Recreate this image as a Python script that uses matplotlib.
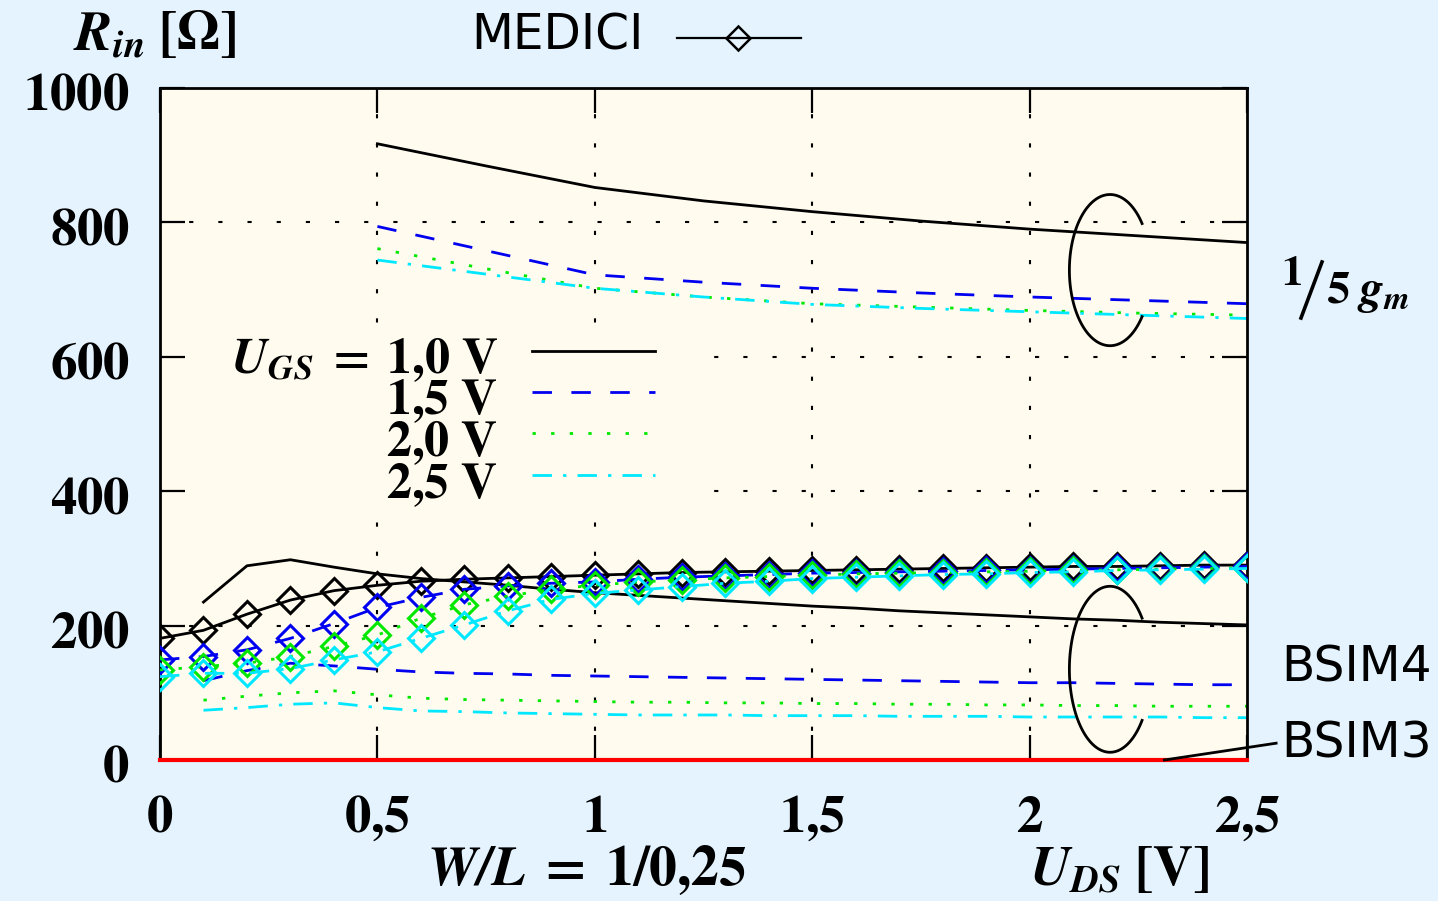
import numpy as np
import matplotlib
matplotlib.use("Agg")
import matplotlib.pyplot as plt
from matplotlib.patches import Rectangle
from matplotlib.transforms import ScaledTranslation

plt.rcParams['mathtext.fontset'] = 'custom'
plt.rcParams['mathtext.rm'] = 'STIXGeneral'
plt.rcParams['mathtext.it'] = 'STIXGeneral:italic'
plt.rcParams['mathtext.bf'] = 'STIXGeneral:bold'
plt.rcParams['mathtext.bfit'] = 'STIXGeneral:italic:bold'
plt.rcParams['font.family'] = ['DejaVu Sans']

# U_DS sweep
x_medici = np.round(np.arange(0, 2.51, 0.1), 1)
x_bsim4 = x_medici[1:]
x_gm = [0.5, 0.75, 1.0, 1.25, 1.5, 1.75, 2.0, 2.25, 2.5]

# MEDICI R_in for U_GS = 1.0 / 1.5 / 2.0 / 2.5 V
medici_10 = [181, 193, 217, 238, 252, 260, 266, 269, 271, 273, 275, 277, 279,
             280, 281, 282, 283, 284, 285, 286, 287, 288, 288, 289, 290, 290]
medici_15 = [149, 154, 164, 181, 203, 227, 242, 254, 259, 263, 265, 269, 272,
             274, 276, 278, 279, 280, 281, 282, 283, 284, 285, 286, 287, 288]
medici_20 = [134, 139, 144, 154, 169, 186, 211, 231, 244, 254, 260, 265, 268,
             271, 273, 275, 277, 278, 279, 280, 281, 282, 283, 284, 285, 286]
medici_25 = [124, 129, 129, 136, 149, 161, 181, 201, 222, 239, 248, 253, 258,
             263, 266, 270, 272, 274, 276, 277, 279, 280, 282, 283, 284, 285]

# BSIM4 R_in
bsim4_10 = [235, 289, 298, 287, 277, 270, 265, 260, 254, 249, 245, 241, 237,
            233, 229, 226, 222, 219, 216, 213, 210, 208, 205, 203, 201]
bsim4_15 = [118, 133, 144, 140, 135, 131, 129, 128, 126, 125, 124, 123, 122,
            121, 120, 119, 118, 117, 116, 115, 115, 114, 113, 112, 112]
bsim4_20 = [89, 95, 100, 103, 97, 92, 90, 89, 88, 87, 86, 86, 85,
            85, 84, 84, 83, 83, 82, 82, 81, 81, 80, 80, 80]
bsim4_25 = [74, 78, 83, 85, 78, 73, 72, 70, 69, 68, 67, 67, 67,
            66, 66, 66, 65, 65, 65, 64, 64, 64, 64, 63, 63]

# 1/(5 gm) from BSIM4
gm_10 = [917, 884, 852, 832, 816, 802, 790, 780, 770]
gm_15 = [794, 758, 722, 711, 702, 695, 689, 684, 679]
gm_20 = [761, 731, 702, 689, 679, 674, 669, 665, 662]
gm_25 = [744, 723, 702, 689, 678, 672, 667, 662, 657]

# BSIM3 R_in (zero everywhere)
bsim3 = [0] * len(x_medici)

xticks = [0, 0.5, 1, 1.5, 2, 2.5]
xtick_labels = ['0', '0{,}5', '1', '1{,}5', '2', '2{,}5']
yticks = [0, 200, 400, 600, 800, 1000]
ugs_labels = ['1{,}0', '1{,}5', '2{,}0', '2{,}5']

W, H = 1438, 901
fig = plt.figure(figsize=(W / 100, H / 100), dpi=100)
fig.patch.set_facecolor('#e4f3fd')
ax = fig.add_axes([160 / W, 1 - 760 / H, (1247 - 160) / W, (760 - 88) / H])
ax.set_facecolor('#fffbee')


def fx(px):
    return px / W


def fy(py):
    return 1 - py / H


colors = ['black', '#0000f0', '#00e800', '#00e8ff']
styles = ['-', (0, (7, 7)), (0, (1.2, 5.5)), (0, (7, 4, 1.2, 4))]

# grid
grid_kw = dict(color='black', lw=1.5, ls=(0, (2, 12)), zorder=0.5)
for xv in xticks[1:-1]:
    ax.axvline(xv, **grid_kw)
for yv in yticks[1:-1]:
    ax.axhline(yv, **grid_kw)

# key box hides the grid
ax.add_patch(Rectangle((0.01, 375), 1.22, 270, facecolor='#fffbee',
                       edgecolor='none', zorder=0.8))

lw = 2.0
for ys, c, s in zip([gm_10, gm_15, gm_20, gm_25], colors, styles):
    ax.plot(x_gm, ys, color=c, ls=s, lw=lw, zorder=2)
for ys, c, s in zip([bsim4_10, bsim4_15, bsim4_20, bsim4_25], colors, styles):
    ax.plot(x_bsim4, ys, color=c, ls=s, lw=lw, zorder=2)
for ys, c, s in zip([medici_10, medici_15, medici_20, medici_25], colors, styles):
    ax.plot(x_medici, ys, color=c, ls=s, lw=lw, marker='D', ms=13,
            mfc='none', mec=c, mew=2.2, zorder=3)
ax.plot(x_medici, bsim3, color='#ff0000', lw=3, zorder=4, clip_on=False)

# open brackets grouping the curves
t = np.deg2rad(np.linspace(38, 322, 120))
for cy, h in [(729, 225), (135, 247)]:
    ax.plot(2.185 + 0.0935 * np.cos(t), cy + h / 2 * np.sin(t), color='black',
            lw=2.0, zorder=5)
ax.plot([2.31, 2.567], [0, 25], color='black', lw=2.0, clip_on=False, zorder=5)

ax.set_xlim(0, 2.5)
ax.set_ylim(0, 1000)
ax.set_xticks(xticks)
ax.set_xticklabels([r'$\mathbf{%s}$' % t for t in xtick_labels])
ax.set_yticks(yticks)
ax.set_yticklabels([r'$\mathbf{%d}$' % t for t in yticks])
ax.tick_params(direction='in', length=18, width=1.6, top=True, right=True,
               labelsize=38, pad=22)
# y labels sit a little below their ticks
shift = ScaledTranslation(0, -0.07, fig.dpi_scale_trans)
for lab in ax.get_yticklabels():
    lab.set_verticalalignment('center')
    lab.set_transform(lab.get_transform() + shift)
for sp in ax.spines.values():
    sp.set_linewidth(2)

fig.text(fx(155), fy(50), r'$\mathbfit{R}_{\mathbfit{in}}\;\mathbf{[\Omega]}$',
         fontsize=40, va='baseline', ha='center')
fig.text(fx(471), fy(50), 'MEDICI', fontsize=35, va='baseline', ha='left')
ax.plot([fx(677), fx(801)], [fy(38), fy(38)], color='black', lw=1.6,
        transform=fig.transFigure, clip_on=False)
ax.plot([fx(738)], [fy(38)], marker='D', ms=12, mfc='none', mec='black', mew=1.8,
        transform=fig.transFigure, clip_on=False)

# U_GS key
key_base = [373, 414, 456, 498]
key_line = [351, 392, 433, 475]
for i, (lab, c, s) in enumerate(zip(ugs_labels, colors, styles)):
    txt = r'$\mathbf{%s\ V}$' % lab
    if i == 0:
        txt = r'$\mathbfit{U}_{\mathbfit{GS}}\mathbf{\;=\;%s\ V}$' % lab
    fig.text(fx(498), fy(key_base[i]), txt, fontsize=36, ha='right', va='baseline')
    ax.plot([fx(532), fx(655)], [fy(key_line[i])] * 2, color=c, ls=s, lw=lw,
            transform=fig.transFigure, clip_on=False)

# 1/5 gm label built from pieces
fig.text(fx(1281), fy(285), r'$\mathbf{1}$', fontsize=31, ha='left', va='baseline')
ax.plot([fx(1301), fx(1322)], [fy(318), fy(262)], color='black', lw=2.6,
        transform=fig.transFigure, clip_on=False)
fig.text(fx(1326), fy(303), r'$\mathbf{5}\;\mathbfit{g}_{\mathbfit{m}}$',
         fontsize=34, ha='left', va='baseline')

fig.text(fx(1281), fy(682), 'BSIM4', fontsize=35, ha='left', va='baseline')
fig.text(fx(1281), fy(757), 'BSIM3', fontsize=35, ha='left', va='baseline')

fig.text(fx(587), fy(885), r'$\mathbfit{W/L}\mathbf{\;=\;1/0{,}25}$', fontsize=40,
         ha='center', va='baseline')
fig.text(fx(1120), fy(885), r'$\mathbfit{U}_{\mathbfit{DS}}\;\mathbf{[V]}$',
         fontsize=40, ha='center', va='baseline')

fig.savefig('out.png', dpi=100, facecolor=fig.get_facecolor())
